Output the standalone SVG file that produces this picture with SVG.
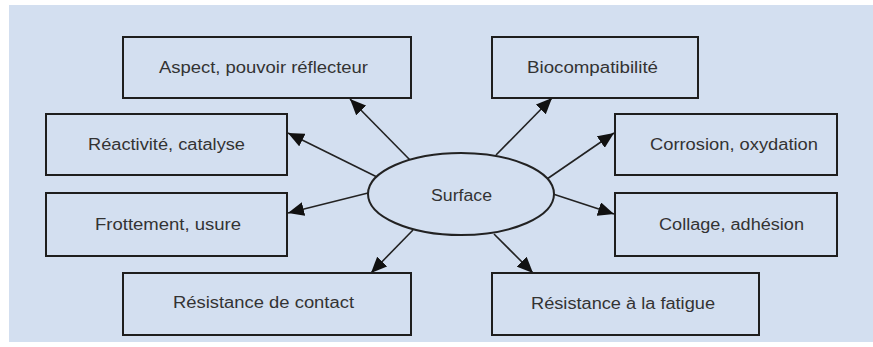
<svg xmlns="http://www.w3.org/2000/svg" width="873" height="347" viewBox="0 0 873 347">
<style>
.box{fill:none;stroke:#1e1e1e;stroke-width:2}
.lbl{font-family:"Liberation Sans",Arial,sans-serif;font-size:16px;fill:#333}
.edge{stroke:#222;stroke-width:1.6;fill:none;marker-end:url(#ah)}
</style>
<defs>
<marker id="ah" markerUnits="userSpaceOnUse" markerWidth="17" markerHeight="14" refX="16" refY="7" orient="auto">
<path d="M0,0 L16,7 L0,14 z" fill="#111"/>
</marker>
</defs>
<rect x="0" y="0" width="873" height="347" fill="#ffffff"/>
<rect x="9" y="5" width="864" height="337" fill="#d3dff0"/>
<g id="connectors">
<line class="edge" x1="410" y1="160" x2="350" y2="99"/>
<line class="edge" x1="496" y1="155" x2="552" y2="98"/>
<line class="edge" x1="377" y1="177" x2="288" y2="133"/>
<line class="edge" x1="547" y1="179" x2="614" y2="133"/>
<line class="edge" x1="368" y1="193" x2="288" y2="213"/>
<line class="edge" x1="553" y1="194" x2="614" y2="214"/>
<line class="edge" x1="413" y1="230" x2="371" y2="273"/>
<line class="edge" x1="494" y1="234" x2="533" y2="273"/>
</g>
<g id="surface">
<ellipse cx="461" cy="194" rx="93" ry="41" fill="#d3dff0" stroke="#222" stroke-width="2"/>
<text class="lbl" x="431" y="201" textLength="61" lengthAdjust="spacingAndGlyphs">Surface</text>
</g>
<g id="aspect">
<rect class="box" x="123" y="37" width="288" height="61"/>
<text class="lbl" x="159" y="73" textLength="209" lengthAdjust="spacingAndGlyphs">Aspect, pouvoir réflecteur</text>
</g>
<g id="biocompatibilite">
<rect class="box" x="492" y="37" width="206" height="61"/>
<text class="lbl" x="527" y="73" textLength="131" lengthAdjust="spacingAndGlyphs">Biocompatibilité</text>
</g>
<g id="reactivite">
<rect class="box" x="46" y="114" width="241" height="61"/>
<text class="lbl" x="88" y="150" textLength="157" lengthAdjust="spacingAndGlyphs">Réactivité, catalyse</text>
</g>
<g id="corrosion">
<rect class="box" x="615" y="114" width="222" height="61"/>
<text class="lbl" x="650" y="150" textLength="168" lengthAdjust="spacingAndGlyphs">Corrosion, oxydation</text>
</g>
<g id="frottement">
<rect class="box" x="46" y="193" width="241" height="63"/>
<text class="lbl" x="95" y="230" textLength="146" lengthAdjust="spacingAndGlyphs">Frottement, usure</text>
</g>
<g id="collage">
<rect class="box" x="615" y="193" width="222" height="63"/>
<text class="lbl" x="659" y="230" textLength="145" lengthAdjust="spacingAndGlyphs">Collage, adhésion</text>
</g>
<g id="contact">
<rect class="box" x="123" y="273" width="288" height="62"/>
<text class="lbl" x="173" y="308" textLength="181" lengthAdjust="spacingAndGlyphs">Résistance de contact</text>
</g>
<g id="fatigue">
<rect class="box" x="492" y="273" width="267" height="62"/>
<text class="lbl" x="531" y="309" textLength="184" lengthAdjust="spacingAndGlyphs">Résistance à la fatigue</text>
</g>
</svg>
